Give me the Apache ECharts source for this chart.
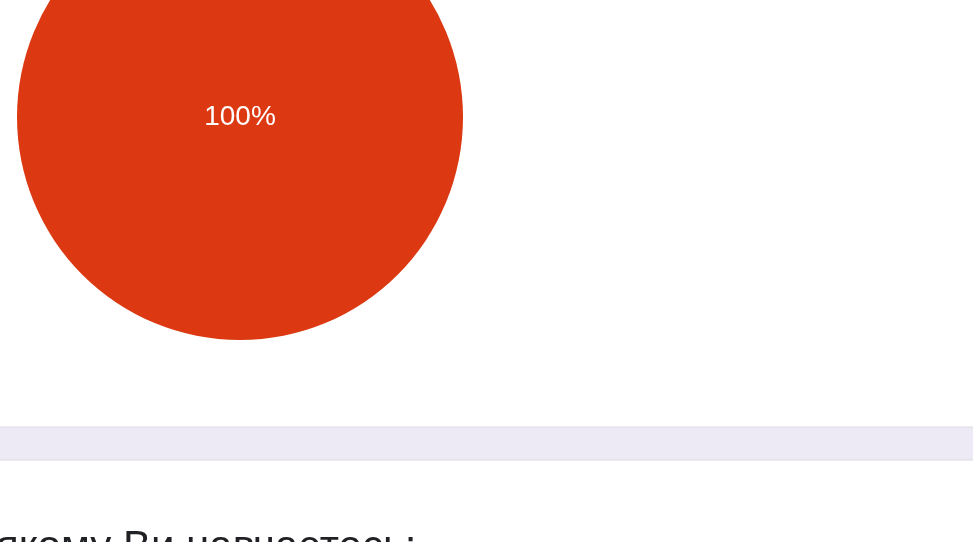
<!DOCTYPE html>
<html>
<head>
<meta charset="utf-8">
<script src="https://cdn.jsdelivr.net/npm/echarts@6/dist/echarts.min.js"></script>
<style>
	html, body { margin: 0; padding: 0; background: #fff; }
	#chart { width: 973px; height: 542px; }
</style>
</head>
<body>
<div id="chart"></div>
<script>
	// data
	var categories = ['Так'];
	var values = [100];
	var nextQuestion = 'якому Ви навчаєтесь:';

	var pieData = [];
	for (var i = 0; i < categories.length; i++) {
		pieData.push({ name: categories[i], value: values[i] });
	}

	var chart = echarts.init(document.getElementById('chart'));
	var option = {
		animation: false,
		color: ['#DC3912'],
		graphic: [
			{
				type: 'rect',
				shape: { x: -1, y: 427, width: 975, height: 33 },
				style: { fill: '#EDEAF6', stroke: '#DCDBE2', lineWidth: 1 }
			},
			{
				type: 'text',
				left: -4,
				top: 527,
				style: {
					text: nextQuestion,
					font: '42px "Liberation Sans", Arial, sans-serif',
					fill: '#202124'
				}
			}
		],
		series: [
			{
				type: 'pie',
				center: [240, 117],
				radius: 223,
				startAngle: 90,
				data: pieData,
				label: {
					position: 'center',
					formatter: '{d}%',
					color: '#fff',
					fontSize: 28,
					fontFamily: '"Liberation Sans", Arial, sans-serif'
				},
				labelLine: { show: false }
			}
		]
	};
	chart.setOption(option);
	window.addEventListener('resize', function() {
		chart.resize();
	});
</script>
</body>
</html>
